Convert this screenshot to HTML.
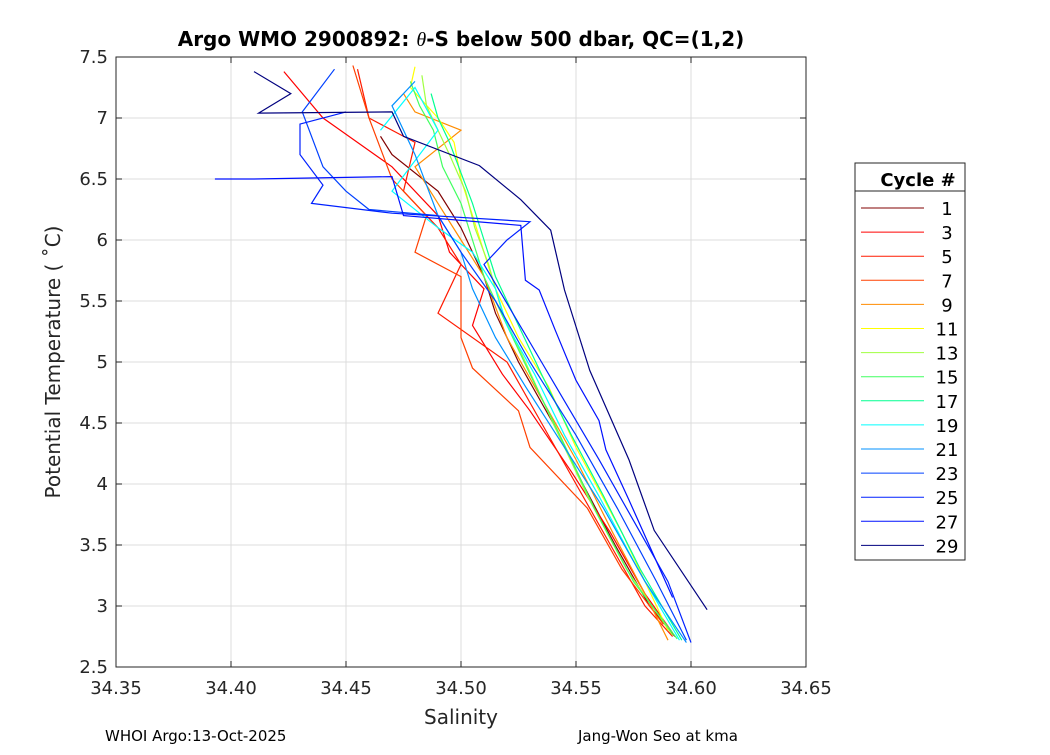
<!DOCTYPE html>
<html><head><meta charset="utf-8"><style>
body{margin:0;background:#fff;font-family:"Liberation Sans","DejaVu Sans",sans-serif}
</style></head><body>
<svg id="chart" width="1050" height="750" xmlns="http://www.w3.org/2000/svg" font-family="'DejaVu Sans','Liberation Sans',sans-serif">
<rect width="1050" height="750" fill="#fff"/>
<g id="grid"></g>
<g id="series"></g>
<rect x="116" y="57" width="690" height="610" fill="none" stroke="#262626" stroke-width="1"/>
<g id="ticks"></g>
<text x="461" y="46" text-anchor="middle" font-size="20" font-weight="bold" fill="#000">Argo WMO 2900892: <tspan font-style="italic" font-weight="normal" font-family="'Liberation Serif',serif">θ</tspan>-S below 500 dbar,  QC=(1,2)</text>
<text x="461" y="724" text-anchor="middle" font-size="20" fill="#262626">Salinity</text>
<text transform="translate(60,362) rotate(-90)" text-anchor="middle" font-size="20" fill="#262626">Potential Temperature ( ˚C)</text>
<text x="105" y="741" font-size="15" fill="#000">WHOI Argo:13-Oct-2025</text>
<text x="578" y="741" font-size="15" fill="#000">Jang-Won Seo at kma</text>
<g id="legend">
<rect x="855" y="163" width="110" height="397" fill="#fff" stroke="#262626"/>
<line x1="855" y1="191" x2="965" y2="191" stroke="#262626"/>
<text x="918" y="186" text-anchor="middle" font-size="18" font-weight="bold">Cycle #</text>
</g>
</svg>
<script>
const cycles=[1,3,5,7,9,11,13,15,17,19,21,23,25,27,29];
const colors=["#800000","#ff0000","#ff1a00","#ff4000","#ff8c00","#ffff00","#a0ff40","#40ff60","#00ff90","#00ffff","#0090ff","#0040ff","#0020ff","#0010ff","#00007f"];
const xTicks=[34.35,34.4,34.45,34.5,34.55,34.6,34.65];
const yTicks=[2.5,3,3.5,4,4.5,5,5.5,6,6.5,7,7.5];
const sal=[
[34.465,34.47,34.49,34.5,34.505,34.51,34.515,34.525,34.54,34.553,34.567,34.582,34.593],
[34.423,34.44,34.47,34.49,34.495,34.51,34.505,34.518,34.53,34.548,34.565,34.58,34.592],
[34.455,34.46,34.48,34.475,34.49,34.5,34.49,34.52,34.535,34.55,34.565,34.58,34.592],
[34.453,34.46,34.47,34.485,34.48,34.5,34.5,34.505,34.525,34.53,34.555,34.57,34.588],
[34.475,34.48,34.5,34.48,34.49,34.5,34.51,34.52,34.535,34.55,34.566,34.58,34.59],
[34.48,34.478,34.49,34.497,34.5,34.505,34.51,34.515,34.525,34.538,34.55,34.57,34.59],
[34.483,34.485,34.49,34.495,34.502,34.506,34.512,34.518,34.528,34.54,34.555,34.572,34.592],
[34.478,34.482,34.488,34.492,34.5,34.505,34.51,34.52,34.53,34.543,34.558,34.575,34.594],
[34.487,34.49,34.495,34.5,34.505,34.51,34.515,34.525,34.535,34.548,34.562,34.578,34.596],
[34.465,34.48,34.49,34.47,34.49,34.505,34.515,34.52,34.532,34.545,34.56,34.577,34.595],
[34.48,34.47,34.48,34.485,34.49,34.5,34.505,34.515,34.528,34.545,34.562,34.58,34.598],
[34.445,34.431,34.44,34.45,34.46,34.49,34.5,34.515,34.53,34.55,34.568,34.585,34.598],
[34.45,34.43,34.43,34.44,34.435,34.47,34.53,34.52,34.51,34.535,34.56,34.59,34.6],
[34.393,34.41,34.47,34.475,34.526,34.528,34.534,34.541,34.55,34.56,34.563,34.573,34.592],
[34.41,34.426,34.412,34.47,34.475,34.508,34.526,34.539,34.545,34.556,34.573,34.584,34.607]
];
const temp=[
[6.85,6.7,6.4,6.1,5.9,5.7,5.4,5.0,4.5,4.0,3.5,3.0,2.75],
[7.38,7.0,6.6,6.2,5.9,5.6,5.3,4.9,4.6,4.1,3.6,3.1,2.78],
[7.4,7.0,6.8,6.4,6.1,5.8,5.4,5.0,4.5,4.0,3.5,3.0,2.75],
[7.43,7.0,6.5,6.2,5.9,5.7,5.2,4.95,4.6,4.3,3.8,3.3,2.85],
[7.2,7.05,6.9,6.6,6.3,6.0,5.7,5.2,4.7,4.2,3.6,3.1,2.72],
[7.42,7.25,7.0,6.8,6.5,6.2,5.9,5.6,5.2,4.8,4.3,3.6,2.8],
[7.35,7.1,6.9,6.7,6.4,6.1,5.8,5.4,5.0,4.5,3.9,3.3,2.76],
[7.3,7.1,6.9,6.6,6.3,6.0,5.7,5.3,4.9,4.4,3.8,3.2,2.73],
[7.2,7.0,6.8,6.55,6.3,6.0,5.7,5.3,4.9,4.4,3.9,3.3,2.72],
[6.9,7.25,6.9,6.4,6.1,5.9,5.6,5.3,4.9,4.4,3.9,3.3,2.72],
[7.3,7.1,6.7,6.45,6.2,5.9,5.6,5.2,4.8,4.3,3.8,3.2,2.7],
[7.4,7.05,6.6,6.4,6.25,6.2,5.9,5.5,5.0,4.4,3.8,3.2,2.72],
[7.05,6.95,6.7,6.45,6.3,6.22,6.15,6.0,5.8,5.0,4.2,3.2,2.7],
[6.5,6.5,6.52,6.2,6.12,5.67,5.59,5.26,4.85,4.52,4.28,3.87,3.07],
[7.38,7.2,7.04,7.05,6.85,6.61,6.33,6.08,5.59,4.93,4.2,3.62,2.97]
];
const X0=116,X1=806,Y0=667,Y1=57;
const sx=s=>X0+(s-34.35)/0.3*(X1-X0);
const sy=t=>Y0-(t-2.5)/5*(Y0-Y1);
const NS="http://www.w3.org/2000/svg";
const mk=(tag,attrs,parent)=>{const e=document.createElementNS(NS,tag);for(const k in attrs)e.setAttribute(k,attrs[k]);parent.appendChild(e);return e;};
const grid=document.getElementById('grid'),ticks=document.getElementById('ticks');
xTicks.forEach(v=>{const x=sx(v);
 const g=mk('line',{x1:x,x2:x,y1:Y1,y2:Y0,stroke:'#dcdcdc'},grid);
 
 
 mk('line',{x1:x,x2:x,y1:Y0,y2:Y0-6,stroke:'#262626'},ticks);
 mk('line',{x1:x,x2:x,y1:Y1,y2:Y1+6,stroke:'#262626'},ticks);
 const t=mk('text',{x:x,y:Y0+27,'text-anchor':'middle','font-size':18,fill:'#262626'},ticks);
 t.textContent=v.toFixed(2);
 
 
});
yTicks.forEach(v=>{const y=sy(v);
 const g=mk('line',{x1:X0,x2:X1,y1:y,y2:y,stroke:'#dcdcdc'},grid);
 
 
 mk('line',{x1:X0,x2:X0+6,y1:y,y2:y,stroke:'#262626'},ticks);
 mk('line',{x1:X1,x2:X1-6,y1:y,y2:y,stroke:'#262626'},ticks);
 const t=mk('text',{x:X0-8,y:y+6,'text-anchor':'end','font-size':18,fill:'#262626'},ticks);
 t.textContent=String(v);
 
 
});
const series=document.getElementById('series'),legend=document.getElementById('legend');
cycles.forEach((c,i)=>{
 const pts=sal[i].map((s,j)=>sx(s).toFixed(1)+','+sy(temp[i][j]).toFixed(1)).join(' ');
 const p=mk('polyline',{points:pts,fill:'none',stroke:colors[i],'stroke-width':1.2},series);
 
 
 const ly=208+i*24.1;
 const l=mk('line',{x1:861,x2:924,y1:ly,y2:ly,stroke:colors[i]},legend);
 
 
 const t=mk('text',{x:947,y:ly+7,'text-anchor':'middle','font-size':18,fill:'#000'},legend);
 t.textContent=String(c);
 
 
});
</script>
</body></html>
